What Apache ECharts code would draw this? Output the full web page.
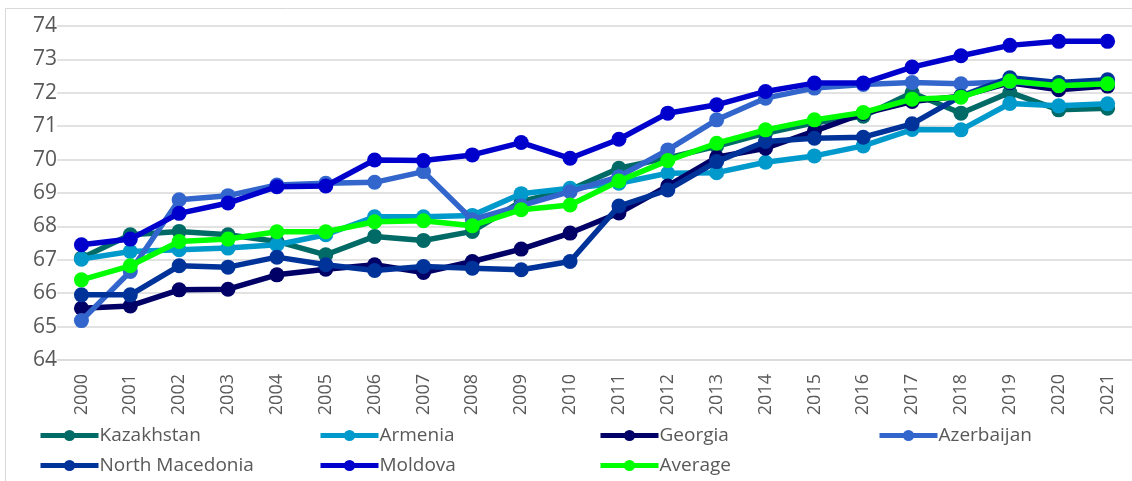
<!DOCTYPE html>
<html><head><meta charset="utf-8">
<script src="https://cdn.jsdelivr.net/npm/echarts@6/dist/echarts.min.js"></script>
<style>html,body{margin:0;padding:0;background:#fff}#c{width:1132px;height:481px}</style>
</head><body><div id="c"></div>
<script>
const years = ['2000','2001','2002','2003','2004','2005','2006','2007','2008','2009','2010','2011','2012','2013','2014','2015','2016','2017','2018','2019','2020','2021'];
const kazakhstan = [67.05,67.75,67.85,67.75,67.55,67.15,67.7,67.58,67.85,68.75,69.1,69.74,70.05,70.4,70.79,71.1,71.3,72.0,71.39,72.01,71.49,71.54];
const armenia    = [67.02,67.25,67.3,67.35,67.45,67.75,68.29,68.29,68.33,68.98,69.14,69.29,69.59,69.61,69.92,70.11,70.41,70.9,70.89,71.68,71.61,71.67];
const georgia    = [65.55,65.62,66.1,66.12,66.55,66.72,66.85,66.62,66.95,67.32,67.8,68.4,69.21,70.07,70.34,70.85,71.38,71.74,71.9,72.3,72.09,72.2];
const azerbaijan = [65.18,66.65,68.8,68.92,69.24,69.29,69.32,69.64,68.2,68.62,69.04,69.49,70.29,71.19,71.84,72.14,72.25,72.31,72.27,72.33,72.22,72.27];
const northMacedonia = [65.95,65.95,66.82,66.78,67.08,66.85,66.68,66.8,66.75,66.7,66.95,68.61,69.09,69.94,70.54,70.64,70.67,71.07,71.9,72.45,72.31,72.39];
const moldova    = [67.45,67.62,68.39,68.7,69.19,69.21,69.99,69.97,70.14,70.51,70.04,70.61,71.39,71.64,72.04,72.29,72.29,72.77,73.11,73.42,73.54,73.54];
const average    = [66.4,66.82,67.55,67.62,67.84,67.84,68.14,68.17,68.02,68.5,68.64,69.36,69.97,70.49,70.89,71.19,71.41,71.81,71.87,72.35,72.21,72.27];
const yTicks = ['64','65','66','67','68','69','70','71','72','73','74'];

const names = ['Kazakhstan','Armenia','Georgia','Azerbaijan','North Macedonia','Moldova','Average'];
const datas = [kazakhstan,armenia,georgia,azerbaijan,northMacedonia,moldova,average];
const colors = ['#006B66','#0099CC','#000066','#3366CC','#003399','#0000CC','#00FF00'];
const legendPos = [[38,426],[318,426],[598,426],[877,426],[38,456],[318,456],[598,456]];

const chart = echarts.init(document.getElementById('c'), null, {renderer:'canvas'});
const txt = '#595959';
chart.setOption({
  animation:false,
  backgroundColor:'#fff',
  graphic:[{type:'rect',shape:{x:5.5,y:8.5,width:1140,height:480},style:{fill:'none',stroke:'#d9d9d9',lineWidth:1},silent:true,z:-10}],
  grid:{left:57,right:-6,top:26,bottom:121},
  legend: names.map((n,i)=>({
    data:[n], left:legendPos[i][0], top:legendPos[i][1], itemWidth:58, itemHeight:14, itemGap:0,
    lineStyle:{width:5}, padding:0,
    textStyle:{color:txt,fontSize:19,fontFamily:'Open Sans',padding:[0,0,0,-4]}
  })),
  xAxis:{type:'category',data:years,boundaryGap:true,
    axisLine:{show:true,lineStyle:{color:'#d9d9d9',width:1.5}},axisTick:{show:false},
    axisLabel:{rotate:90,color:txt,fontSize:18,fontFamily:'Open Sans',margin:14}},
  yAxis:{type:'value',min:64,max:74,interval:1,
    axisLine:{show:false},axisTick:{show:false},
    splitLine:{lineStyle:{color:'#d9d9d9',width:1.5}},
    axisLabel:{color:txt,fontSize:21,fontFamily:'Open Sans',margin:24,align:'left',
      formatter:v=>yTicks[Math.round(v-64)]}},
  series: names.map((n,i)=>({
    name:n,type:'line',data:datas[i],symbol:'circle',symbolSize:15,
    lineStyle:{width:5.5,color:colors[i]},itemStyle:{color:colors[i]},z:2+i
  }))
});
</script></body></html>
